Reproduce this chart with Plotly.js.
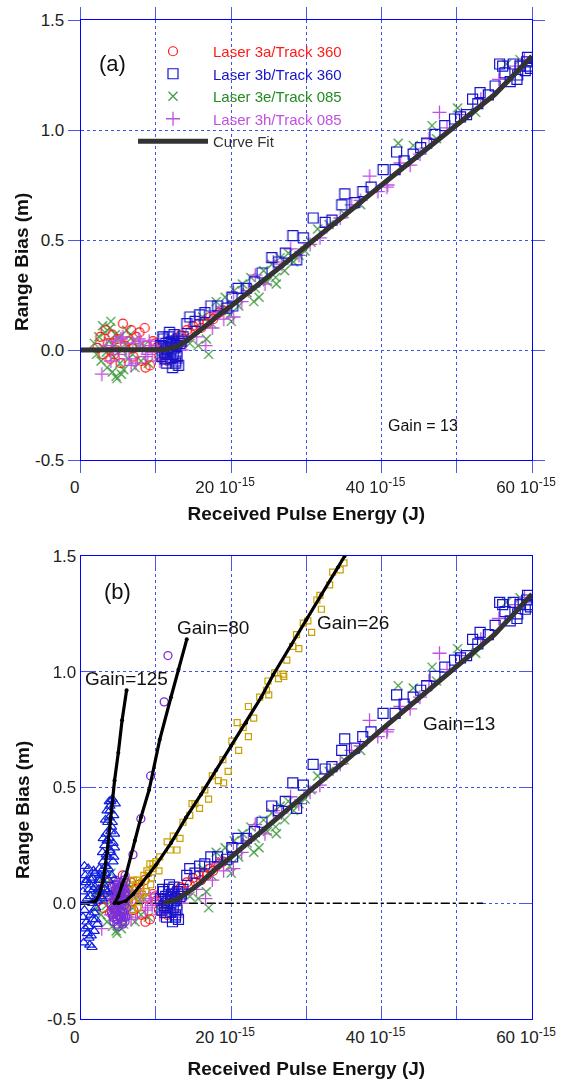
<!DOCTYPE html>
<html><head><meta charset="utf-8">
<script src="https://cdn.plot.ly/plotly-3.0.1.min.js"></script>
<style>html,body{margin:0;padding:0;background:#fff}#chart{width:563px;height:1082px}</style>
</head><body><div id="chart"></div>
<script>
// ---------- DATA ----------
const xTickVals = [0, 20, 40, 60];
const xTickText = ['0', '20 10<sup>-15</sup>', '40 10<sup>-15</sup>', '60 10<sup>-15</sup>'];
const xMidTickVals = [10, 30, 50];
const yTickVals = [-0.5, 0, 0.5, 1.0, 1.5];
const yTickText = ['-0.5', '0.0', '0.5', '1.0', '1.5'];

const seriesNames = ['Laser 3a/Track 360', 'Laser 3b/Track 360', 'Laser 3e/Track 085', 'Laser 3h/Track 085', 'Curve Fit'];

// Laser 3a / Track 360 (red circles)
const l3aX = [2.2,2.6,3.0,3.3,3.6,3.9,4.2,4.6,4.9,5.3,5.6,5.9,6.3,6.7,7.0,7.4,7.8,8.1,8.5,8.8,9.2,9.6,10.0,10.4,10.8,11.2,11.7,12.1,12.5,12.9,13.3,13.7,14.1,14.5,14.9,15.3,15.7,16.0,16.4,16.8,17.2,17.6,18.0,18.4,18.9,4.4,6.8,8.6,9.9,11.5];
const l3aY = [0.01,0.06,-0.02,0.09,0.03,-0.04,0.07,0.00,0.05,-0.06,0.12,0.02,0.04,0.09,-0.03,0.06,0.08,-0.05,0.10,0.02,-0.07,0.04,0.01,-0.03,0.02,0.00,-0.04,0.03,0.05,0.02,0.07,0.05,0.09,0.08,0.11,0.09,0.12,0.10,0.13,0.12,0.15,0.14,0.16,0.17,0.18,-0.02,0.01,-0.08,0.03,-0.05];

// Laser 3b / Track 360 (blue squares)
const l3bX = [10.6,10.8,11.0,11.1,11.3,11.4,11.6,11.7,11.9,12.0,12.1,12.3,12.4,12.6,12.7,12.9,13.0,13.2,11.2,11.8,12.2,12.5,10.9,11.5,12.8,13.4,13.6,12.0,11.4,12.6,
  14.1,14.5,15.2,15.8,16.5,17.3,18.2,19.4,20.1,20.2,20.9,22.0,23.1,24.1,25.4,26.3,27.2,28.2,28.7,29.6,30.9,32.5,33.4,34.7,35.1,36.4,37.5,38.6,40.2,41.8,42.0,43.0,44.2,45.2,46.0,47.1,48.4,49.7,50.5,51.3,52.1,52.8,53.1,54.2,55.1,55.7,56.1,56.4,57.1,57.5,58.0,58.1,58.4,59.1,59.3,59.4,59.6,59.8];
const l3bY = [0.02,-0.03,0.05,-0.01,0.03,-0.06,0.01,0.06,-0.04,0.00,0.04,-0.02,0.07,-0.05,0.02,0.05,-0.07,0.03,-0.04,0.08,-0.08,0.01,0.06,-0.02,-0.03,0.04,0.06,0.03,0.00,-0.06,
  0.12,0.15,0.13,0.16,0.17,0.20,0.20,0.19,0.24,0.20,0.28,0.28,0.31,0.35,0.42,0.40,0.44,0.52,0.41,0.51,0.60,0.58,0.59,0.66,0.71,0.67,0.72,0.74,0.82,0.82,0.90,0.86,0.89,0.92,0.94,0.98,1.02,1.05,1.06,1.07,1.14,1.12,1.17,1.16,1.20,1.30,1.29,1.26,1.22,1.30,1.23,1.25,1.29,1.27,1.31,1.33,1.29,1.28];

// Laser 3e / Track 085 (green x)
const l3eX = [1.8,2.1,2.4,2.7,3.0,3.2,3.5,3.7,4.0,4.2,4.5,4.7,5.0,5.2,5.5,5.7,6.0,6.3,6.6,6.9,7.2,7.6,8.0,8.4,3.9,4.4,4.8,5.1,5.4,2.9,6.1,7.0,3.4,4.6,9.0,10.5,
  14.5,15.6,16.2,16.7,17.4,18.0,18.6,19.2,19.8,20.4,21.0,21.5,22.1,22.6,23.2,23.7,24.3,24.8,25.4,25.9,26.5,27.1,27.6,28.3,29.0,29.8,30.6,31.5,33.0,35.0,37.2,42.2,44.2,46.7,47.3,50.1,52.5,56.6,58.4,17.0,20.0,23.0,26.0];
const l3eY = [0.03,-0.02,0.06,-0.05,0.01,0.08,-0.08,0.04,0.13,-0.10,0.02,-0.12,0.05,-0.06,0.00,-0.09,0.03,-0.04,0.07,-0.02,-0.08,0.01,-0.05,0.02,0.10,-0.03,-0.13,0.06,-0.11,0.11,0.09,0.04,-0.01,0.07,-0.06,-0.03,
  0.03,0.02,0.15,0.05,0.12,0.22,0.18,0.24,0.16,0.27,0.20,0.30,0.26,0.33,0.28,0.24,0.36,0.31,0.39,0.33,0.42,0.36,0.44,0.40,0.43,0.45,0.49,0.55,0.57,0.62,0.66,0.94,0.93,1.02,0.96,1.10,1.08,1.30,1.32,-0.02,0.13,0.22,0.30];

// Laser 3h / Track 085 (violet +)
const l3hX = [2.8,3.4,4.0,4.6,5.1,5.6,6.0,6.4,6.9,7.3,7.7,8.2,8.6,9.1,9.5,10.0,10.5,11.0,11.6,12.2,12.8,13.4,14.0,5.3,6.7,7.9,9.3,10.8,12.5,4.3,8.9,
  15.4,16.6,17.5,18.3,19.0,20.3,20.3,21.4,22.3,23.2,24.5,25.6,26.7,27.9,29.0,30.5,31.8,32.7,34.5,36.0,37.2,38.4,39.5,40.7,40.8,42.5,43.8,45.1,46.3,47.7,48.7,50.6,53.2,55.6,57.8,59.0];
const l3hY = [-0.11,0.02,-0.05,0.04,-0.02,0.06,0.00,-0.04,0.03,-0.06,0.05,0.01,-0.03,0.04,-0.01,0.02,-0.05,0.03,-0.03,0.01,-0.06,0.00,0.04,0.05,-0.07,0.04,0.02,-0.04,0.06,0.01,-0.02,
  0.06,0.02,0.10,0.17,0.14,0.15,0.26,0.22,0.27,0.34,0.30,0.40,0.39,0.46,0.43,0.48,0.51,0.56,0.60,0.66,0.68,0.79,0.72,0.74,0.75,0.85,0.84,0.89,0.96,1.08,1.01,1.07,1.14,1.23,1.29,1.32];

// Curve fit, gain = 13
const fit13X = [0,2,4,6,8,10,11,12,13,14,15,16,17,18,20,25,30,35,40,45,50,55,60];
const fit13Y = [0,0,0,0,0,0,0.002,0.008,0.02,0.04,0.065,0.09,0.12,0.15,0.2,0.335,0.47,0.61,0.75,0.885,1.02,1.16,1.335];

// Panel (b) extra data
// Gain = 125 (blue triangles)
const g125X = [0.3,0.5,0.6,0.8,0.9,1.0,1.1,1.2,1.3,1.4,1.5,1.6,1.7,1.8,1.9,2.0,2.1,2.2,0.4,0.7,1.0,1.3,1.6,1.9,2.2,0.5,0.9,1.2,1.5,1.8,2.4,
  2.5,2.7,2.9,3.0,3.1,3.2,3.3,3.4,3.5,3.6,3.7,3.8,3.9,4.0,4.1,4.2,4.3,4.4,4.5,4.6,2.8,3.1,3.4,3.7,4.0,4.3,3.3,3.9,4.5,3.6,
  2.6,2.9,3.2,3.5,3.8,4.1,4.4,2.4,3.0,3.6,4.2,2.7,3.3,3.9,4.0,3.5,2.5,3.8,0.6,1.1,1.4,1.7,2.0,0.3,0.8];
const g125Y = [0.05,-0.03,0.12,-0.08,0.02,0.15,-0.15,0.08,-0.05,0.10,-0.19,0.00,0.06,-0.12,0.13,-0.02,0.04,-0.09,-0.17,0.09,-0.10,0.03,-0.07,0.07,0.01,0.16,-0.13,-0.18,0.11,-0.04,0.06,
  0.05,0.10,0.02,0.18,0.08,0.25,0.13,0.30,0.20,0.35,0.15,0.28,0.40,0.22,0.33,0.45,0.26,0.38,0.30,0.43,0.14,0.04,0.21,0.10,0.31,0.18,0.36,0.42,0.24,0.27,
  0.12,0.22,0.06,0.27,0.37,0.12,0.20,0.10,0.28,0.05,0.35,0.03,0.16,0.23,0.44,0.40,0.15,0.44,-0.11,0.06,-0.14,0.14,-0.07,-0.06,0.10];
const fit125X = [0,1,2,2.5,3,3.5,4,4.5,5,5.5,6.1];
const fit125Y = [0,0,0.01,0.04,0.1,0.22,0.37,0.53,0.65,0.79,0.92];

// Gain = 80 (purple circles)
const g80X = [4.0,4.2,4.3,4.5,4.6,4.7,4.8,4.9,5.0,5.1,5.2,5.3,5.4,5.5,5.6,5.7,5.8,5.9,6.0,6.1,4.4,4.6,4.8,5.0,5.2,5.4,5.6,5.8,6.0,4.5,4.9,5.3,5.7,4.1,5.1,5.5,
  4.1,4.3,4.5,4.7,4.9,5.1,5.3,5.5,5.7,5.9,6.1,4.2,4.4,4.6,4.8,5.0,5.2,5.4,5.6,5.8,6.0,4.6,5.0,5.4,5.8,4.8,5.2,5.6,4.4,5.9,
  5.9,6.95,8.0,9.3,11.1,11.6];
const g80Y = [0.00,0.05,-0.06,0.08,-0.02,0.03,-0.09,0.06,0.00,-0.05,0.09,-0.03,0.04,-0.08,0.02,0.07,-0.04,0.01,0.05,-0.02,-0.08,0.10,0.02,-0.10,-0.06,0.07,-0.09,0.04,-0.06,-0.03,-0.07,0.03,0.10,-0.04,0.06,-0.01,
  0.07,-0.02,0.01,-0.07,0.09,0.02,0.06,0.05,-0.06,-0.08,0.03,-0.05,0.04,-0.04,0.08,0.05,-0.02,-0.06,0.08,-0.01,0.09,0.06,-0.05,0.00,0.06,-0.03,0.03,-0.04,0.02,0.04,
  0.12,0.21,0.365,0.55,0.87,1.07];
const fit80X = [4.5,5.0,5.5,6.0,7.2,8.0,9.1,10.5,12.0,13.0,14.1];
const fit80Y = [0,0.03,0.08,0.12,0.27,0.37,0.49,0.706,0.89,1.01,1.14];

// Gain = 26 (gold squares)
const g26X = [4.5,5.0,5.5,6.0,6.3,6.6,6.9,7.2,7.5,7.8,8.1,8.4,8.7,9.0,9.3,9.6,5.2,5.8,6.4,7.0,7.6,8.2,8.8,9.4,10.0,10.4,5.6,6.8,8.0,9.2,
  9.6,10.5,11.5,11.9,12.3,12.8,13.2,13.6,14.5,14.8,15.2,15.8,16.5,17.0,17.5,18.3,18.9,19.0,19.6,20.1,20.8,21.0,21.6,22.3,22.3,23.0,23.8,24.7,24.9,25.0,25.8,26.3,26.9,27.0,27.4,28.2,28.7,29.0,29.6,30.2,30.7,31.4,31.8,32.0,33.1,33.5,34.5,35.0];
const g26Y = [-0.02,0.03,-0.04,0.05,0.00,0.08,-0.03,0.06,0.10,0.02,0.09,0.12,0.05,0.13,0.08,0.15,0.06,-0.01,0.02,0.10,-0.02,0.04,0.14,0.11,0.18,0.14,0.09,0.03,0.07,0.17,
  0.17,0.20,0.265,0.23,0.29,0.23,0.28,0.35,0.38,0.43,0.43,0.41,0.49,0.45,0.55,0.53,0.62,0.52,0.57,0.70,0.78,0.66,0.76,0.72,0.85,0.80,0.89,0.92,0.96,0.90,0.995,0.97,0.99,0.98,1.05,1.11,1.16,1.10,1.21,1.22,1.17,1.31,1.33,1.27,1.375,1.43,1.44,1.47];
const fit26X = [5,6,7,8,9,10,12,14,16,18,20,22,24,25.6,28,30,32,34.2,35.1];
const fit26Y = [0,0.01,0.04,0.08,0.12,0.165,0.26,0.37,0.47,0.575,0.68,0.78,0.89,0.987,1.117,1.225,1.333,1.45,1.5];

// Zero reference line (panel b)
const zeroX = [0, 53.5];
const zeroY = [0, 0];

// ---------- LAYOUT HELPERS ----------
const W = 563, H = 1082;
const px = v => v / W, py = v => 1 - v / H;
const xDom = [px(80.7), px(532)];
const aDom = [py(460), py(20)];
const bDom = [py(1019), py(556)];
const FONT = 'Liberation Sans, Arial, Helvetica, sans-serif';
const tickFont = {family: FONT, size: 17, color: '#222'};
const titleFont = {family: FONT, size: 19, color: '#111', weight: 'bold'};
const LINE = '#0000ff', TICK = '#4a5ae8', GRID = '#3f50f0';

const cRed = '#ff1a1a', cBlue = '#1414cc', cGreen = '#228b22', cViolet = '#c050e0';

function markerTraces(xa, ya, legend) {
  return [
    {x: l3eX, y: l3eY, name: '<span style="color:' + cGreen + '">' + seriesNames[2] + '</span>', legendrank: 3,
     mode: 'markers', type: 'scatter', xaxis: xa, yaxis: ya, showlegend: legend, opacity: 0.85,
     marker: {symbol: 'x-thin-open', size: 9, color: cGreen, line: {color: cGreen, width: 1.3}}},
    {x: l3aX, y: l3aY, name: '<span style="color:' + cRed + '">' + seriesNames[0] + '</span>', legendrank: 1,
     mode: 'markers', type: 'scatter', xaxis: xa, yaxis: ya, showlegend: legend,
     marker: {symbol: 'circle-open', size: 9, color: cRed, line: {color: cRed, width: 1.2}}},
    {x: l3hX, y: l3hY, name: '<span style="color:' + cViolet + '">' + seriesNames[3] + '</span>', legendrank: 4,
     mode: 'markers', type: 'scatter', xaxis: xa, yaxis: ya, showlegend: legend,
     marker: {symbol: 'cross-thin-open', size: 10, color: cViolet, line: {color: cViolet, width: 1.3}}},
    {x: l3bX, y: l3bY, name: '<span style="color:' + cBlue + '">' + seriesNames[1] + '</span>', legendrank: 2,
     mode: 'markers', type: 'scatter', xaxis: xa, yaxis: ya, showlegend: legend,
     marker: {symbol: 'square-open', size: 10, color: cBlue, line: {color: cBlue, width: 1.2}}}
  ];
}

const traces = [];
// panel (a)
traces.push(...markerTraces('x', 'y', true));
traces.push({x: fit13X, y: fit13Y, name: '<span style="color:#333">' + seriesNames[4] + '</span>', legendrank: 5,
  mode: 'lines', type: 'scatter', xaxis: 'x', yaxis: 'y', line: {color: '#333333', width: 5}});

// panel (b)
traces.push({x: zeroX, y: zeroY, mode: 'lines', type: 'scatter', xaxis: 'x2', yaxis: 'y2', showlegend: false,
  line: {color: '#000', width: 1.5, dash: 'dashdot'}});
traces.push(...markerTraces('x2', 'y2', false));
traces.push({x: g26X, y: g26Y, mode: 'markers', type: 'scatter', xaxis: 'x2', yaxis: 'y2', showlegend: false,
  marker: {symbol: 'square-open', size: 6, color: '#c8a000', line: {color: '#c8a000', width: 1.2}}});
traces.push({x: g80X, y: g80Y, mode: 'markers', type: 'scatter', xaxis: 'x2', yaxis: 'y2', showlegend: false,
  marker: {symbol: 'circle-open', size: 8, color: '#7b2ed8', line: {color: '#7b2ed8', width: 1.3}}});
traces.push({x: g125X, y: g125Y, mode: 'markers', type: 'scatter', xaxis: 'x2', yaxis: 'y2', showlegend: false,
  marker: {symbol: 'triangle-up-open', size: 9, color: '#1020e0', line: {color: '#1020e0', width: 1.2}}});
const fit13bX = fit13X.filter(v => v >= 11);
const fit13bY = fit13Y.slice(fit13X.length - fit13bX.length);
traces.push({x: fit13bX, y: fit13bY, mode: 'lines', type: 'scatter', xaxis: 'x2', yaxis: 'y2', showlegend: false,
  line: {color: '#333333', width: 5}});
[[fit125X, fit125Y], [fit80X, fit80Y], [fit26X, fit26Y]].forEach(([fx, fy]) => {
  traces.push({x: fx, y: fy, mode: 'lines+markers', type: 'scatter', xaxis: 'x2', yaxis: 'y2', showlegend: false,
    line: {color: '#000', width: 3.2}, marker: {color: '#000', size: 4}});
});

const gridMinor = (dir) => ({tickmode: 'array', tickvals: xMidTickVals, ticks: dir, ticklen: 12, tickcolor: TICK, tickwidth: 1,
  showgrid: true, gridcolor: GRID, griddash: 'dot', gridwidth: 1});
const baseX = {range: [0, 60], tickmode: 'array', tickvals: xTickVals, ticktext: xTickText, tickfont: tickFont,
  tickcolor: TICK, tickwidth: 1, showline: true, linecolor: LINE, linewidth: 1, mirror: 'ticks',
  showgrid: true, gridcolor: GRID, griddash: 'dot', gridwidth: 1, zeroline: false, ticklabelshift: -6, fixedrange: true};
const baseY = {range: [-0.5, 1.5], tickmode: 'array', tickvals: yTickVals, ticktext: yTickText, tickfont: tickFont,
  tickcolor: TICK, tickwidth: 1, showline: true, linecolor: LINE, linewidth: 1, mirror: 'ticks',
  showgrid: true, gridcolor: GRID, griddash: 'dot', gridwidth: 1, zeroline: false, fixedrange: true};
const overX = {range: [0, 60], tickmode: 'linear', tick0: 0, dtick: 10, ticks: 'inside', ticklen: 12, tickcolor: TICK,
  showticklabels: false, showline: true, linecolor: LINE, mirror: 'ticks', showgrid: false, zeroline: false, fixedrange: true,
  minor: {ticks: 'inside', ticklen: 6, tickmode: 'linear', tick0: 0, dtick: 2, tickcolor: TICK, showgrid: false}};
const overY = {range: [-0.5, 1.5], tickmode: 'linear', tick0: -0.5, dtick: 0.5, ticks: 'inside', ticklen: 12, tickcolor: TICK,
  showticklabels: false, showline: true, linecolor: LINE, mirror: 'ticks', showgrid: false, zeroline: false, fixedrange: true};

const ann = (text, x, y, size, extra) => Object.assign({text, x: px(x), y: py(y), xref: 'paper', yref: 'paper',
  showarrow: false, xanchor: 'center', yanchor: 'middle', font: {family: FONT, size, color: '#111'}}, extra || {});

const layout = {
  width: W, height: H, margin: {l: 0, r: 0, t: 0, b: 0}, paper_bgcolor: '#fff', plot_bgcolor: 'rgba(0,0,0,0)',
  showlegend: true,
  legend: {x: px(133), y: py(35), xanchor: 'left', yanchor: 'top', bgcolor: 'rgba(0,0,0,0)', itemwidth: 70,
    font: {family: FONT, size: 15, color: '#333'}, tracegroupgap: 0, traceorder: 'normal'},
  // panel (a): crossing ticks (outside from main axes, inside from overlay axes)
  xaxis: Object.assign({}, baseX, {domain: xDom, anchor: 'y', ticks: 'outside', ticklen: 12, minor: gridMinor('outside'),
    title: {text: 'Received Pulse Energy (J)', font: titleFont, standoff: 10}}),
  yaxis: Object.assign({}, baseY, {domain: aDom, anchor: 'x', ticks: 'outside', ticklen: 12}),
  xaxis3: Object.assign({}, overX, {overlaying: 'x', anchor: 'y'}),
  yaxis3: Object.assign({}, overY, {overlaying: 'y', anchor: 'x'}),
  // panel (b): inside ticks
  xaxis2: Object.assign({}, baseX, {domain: xDom, anchor: 'y2', ticks: 'inside', ticklen: 12, ticklabelstandoff: 3,
    minor: gridMinor('inside'),
    title: {text: 'Received Pulse Energy (J)', font: titleFont, standoff: 15}}),
  xaxis4: Object.assign({}, overX, {overlaying: 'x2', anchor: 'y2', dtick: 2, ticklen: 6, minor: {ticks: ''}}),
  yaxis2: Object.assign({}, baseY, {domain: bDom, anchor: 'x2', ticks: 'inside', ticklen: 12}),
  annotations: [
    ann('(a)', 112, 64, 22),
    ann('Gain = 13', 423, 425, 16),
    ann('(b)', 117, 591, 22),
    ann('Gain=125', 126, 678, 19),
    ann('Gain=80', 213, 627, 19),
    ann('Gain=26', 353, 622, 19),
    ann('Gain=13', 459, 723, 19),
    ann('<b>Range Bias (m)</b>', 22, 262, 19, {textangle: -90}),
    ann('<b>Range Bias (m)</b>', 22, 810, 19, {textangle: -90})
  ]
};

Plotly.newPlot('chart', traces, layout, {staticPlot: true, displayModeBar: false});
</script></body></html>
